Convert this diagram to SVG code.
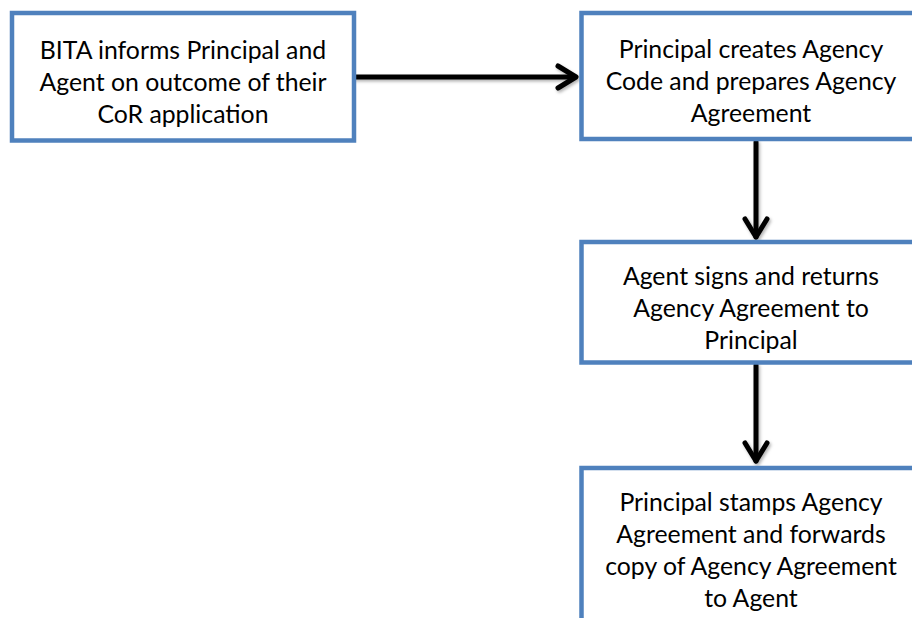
<svg xmlns="http://www.w3.org/2000/svg" width="912" height="618" viewBox="0 0 912 618">
<defs>
<style>
.box{fill:#ffffff;stroke:#4F81BD;stroke-width:4.5}
.t{font-family:Lato,"Liberation Sans",sans-serif;font-size:24.8px;fill:#000;text-anchor:middle}
.c{fill:none;stroke:#000;stroke-width:5;stroke-linecap:round;stroke-linejoin:round}
</style>
<filter id="sh" x="-20%" y="-20%" width="140%" height="140%">
<feDropShadow dx="1.5" dy="2" stdDeviation="1.5" flood-color="#000" flood-opacity="0.3"/>
</filter>
</defs>
<rect width="912" height="618" fill="#fff"/>
<g id="connectors" filter="url(#sh)">
<line class="c" x1="355" y1="77" x2="575" y2="77"/>
<polyline class="c" points="558,66 576,77 558,88"/>
<line class="c" x1="756" y1="142" x2="756" y2="237"/>
<polyline class="c" points="745,219 756,237 767,219"/>
<line class="c" x1="756" y1="365" x2="756" y2="461"/>
<polyline class="c" points="745,443 756,461 767,443"/>
</g>
<g id="n1">
<rect class="box" x="12" y="13" width="342" height="127.5"/>
<text class="t" x="183" y="59">BITA informs Principal and</text>
<text class="t" x="183" y="91">Agent on outcome of their</text>
<text class="t" x="183" y="123">CoR application</text>
</g>
<g id="n2">
<rect class="box" x="581.5" y="13" width="345" height="126"/>
<text class="t" x="751" y="58">Principal creates Agency</text>
<text class="t" x="751" y="90">Code and prepares Agency</text>
<text class="t" x="751" y="122">Agreement</text>
</g>
<g id="n3">
<rect class="box" x="581.5" y="242" width="345" height="120.5"/>
<text class="t" x="751" y="285">Agent signs and returns</text>
<text class="t" x="751" y="317">Agency Agreement to</text>
<text class="t" x="751" y="349">Principal</text>
</g>
<g id="n4">
<rect class="box" x="581.5" y="468" width="345" height="170"/>
<text class="t" x="751" y="511">Principal stamps Agency</text>
<text class="t" x="751" y="543">Agreement and forwards</text>
<text class="t" x="751" y="575">copy of Agency Agreement</text>
<text class="t" x="751" y="607">to Agent</text>
</g>
</svg>
